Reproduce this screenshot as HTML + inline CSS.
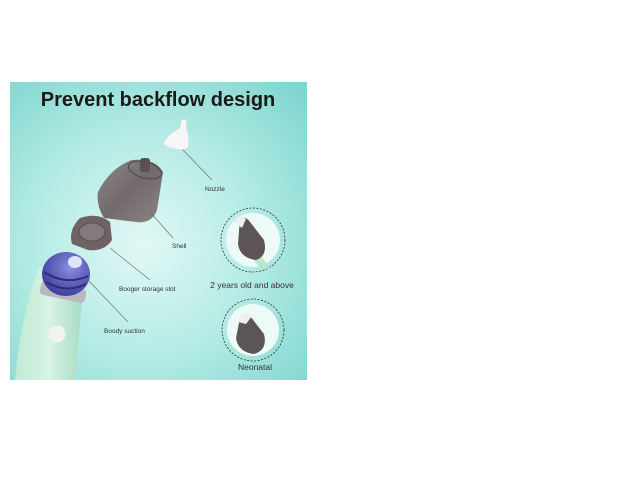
<!DOCTYPE html>
<html><head><style>
html,body{margin:0;padding:0;background:#fff;width:640px;height:500px;overflow:hidden}
svg{position:absolute;left:0;top:0}
text{font-family:"Liberation Sans",sans-serif}
</style></head><body>
<svg width="640" height="500" viewBox="0 0 640 500">
<defs>
<radialGradient id="bg" cx="0.45" cy="0.55" r="0.75">
<stop offset="0" stop-color="#e2f8f5"/><stop offset="0.5" stop-color="#b4ebe5"/><stop offset="1" stop-color="#7ed6ce"/>
</radialGradient>
<linearGradient id="shell" x1="0" y1="0" x2="1" y2="1">
<stop offset="0" stop-color="#8a7e7e"/><stop offset="0.5" stop-color="#6a5e60"/><stop offset="1" stop-color="#857a7b"/>
</linearGradient>
<radialGradient id="blue" cx="0.6" cy="0.35" r="0.7">
<stop offset="0" stop-color="#8b8fe0"/><stop offset="1" stop-color="#3a3a9a"/>
</radialGradient>
<linearGradient id="green" x1="0" y1="0" x2="1" y2="0">
<stop offset="0" stop-color="#bfe9d2"/><stop offset="0.5" stop-color="#d8f4e4"/><stop offset="1" stop-color="#a9dcc3"/>
</linearGradient>
</defs>
<rect x="10" y="82" width="297" height="298" fill="url(#bg)"/>
<text x="158" y="106" font-size="20" font-weight="bold" fill="#1a1a1a" text-anchor="middle">Prevent backflow design</text>
<!-- nozzle -->
<path d="M181 121 Q185 117 187 122 L186 128 Q190 136 188 148 Q176 152 163 144 Q168 134 180 128 Z" fill="#f6f6f6" stroke="#e0e0e0" stroke-width="0.5"/>
<line x1="183" y1="150" x2="212" y2="180" stroke="#666" stroke-width="0.6"/>
<text x="205" y="191" font-size="6.5" fill="#333">Nozzle</text>
<!-- shell -->
<path d="M132 160 Q155 158 163 172 L157 210 Q152 224 136 222 L104 218 Q96 205 98 192 Q110 168 132 160 Z" fill="url(#shell)" opacity="0.92"/>
<ellipse cx="145" cy="170" rx="17" ry="8" fill="none" stroke="#4e4446" stroke-width="1" transform="rotate(15 145 170)"/>
<rect x="140" y="158" width="10" height="14" rx="3" fill="#5a5052"/>
<line x1="150" y1="212" x2="173" y2="238" stroke="#666" stroke-width="0.6"/>
<text x="172" y="248" font-size="6.5" fill="#333">Shell</text>
<!-- slot -->
<path d="M80 218 Q98 212 110 222 L112 240 Q104 252 88 250 L72 244 Q68 230 80 218 Z" fill="#6f6264"/>
<ellipse cx="92" cy="232" rx="13" ry="9" fill="#857a7b" stroke="#5a5052" stroke-width="1"/>
<line x1="110" y1="248" x2="150" y2="280" stroke="#666" stroke-width="0.6"/>
<text x="119" y="291" font-size="6.5" fill="#333">Booger storage slot</text>
<!-- body -->
<path d="M38 270 Q44 262 78 268 L82 300 Q78 340 76 380 L15 380 Q20 320 38 270 Z" fill="url(#green)"/>
<rect x="40" y="285" width="46" height="14" rx="4" fill="#b8b8be" transform="rotate(12 63 292)"/>
<ellipse cx="66" cy="274" rx="24" ry="22" fill="url(#blue)"/>
<path d="M44 272 Q66 286 88 276" stroke="#2c2c7a" stroke-width="2" fill="none"/>
<path d="M46 282 Q66 294 86 284" stroke="#2c2c7a" stroke-width="2" fill="none"/>
<ellipse cx="75" cy="262" rx="7" ry="6" fill="#e0e4fb"/>
<circle cx="57" cy="334" r="8.5" fill="#f2f2f2"/>
<line x1="88" y1="280" x2="128" y2="322" stroke="#666" stroke-width="0.6"/>
<text x="104" y="333" font-size="6.5" fill="#333">Boody suction</text>
<!-- circles -->
<circle cx="253" cy="240" r="32" fill="none" stroke="#333" stroke-width="0.8" stroke-dasharray="2 1.5"/>
<circle cx="253" cy="240" r="27" fill="#eefaf8"/>
<path d="M256 250 L270 268 L262 270 L250 256 Z" fill="#b9e6cf"/>
<path d="M240 218 Q246 216 250 222 L264 240 Q268 256 256 260 Q240 258 238 244 Z" fill="#5d5456"/>
<path d="M234 222 Q238 212 246 219 L242 228 Z" fill="#eee"/>
<text x="252" y="288" font-size="8.5" fill="#333" text-anchor="middle">2 years old and above</text>
<circle cx="253" cy="330" r="31" fill="none" stroke="#333" stroke-width="0.8" stroke-dasharray="2 1.5"/>
<circle cx="253" cy="330" r="26" fill="#eefaf8"/>
<path d="M240 318 Q245 310 250 316 L264 334 Q268 350 254 354 Q238 352 236 338 Z" fill="#5d5456"/>
<path d="M238 322 Q242 308 252 316 L246 324 Z" fill="#eee"/>
<text x="255" y="370" font-size="8.5" fill="#333" text-anchor="middle">Neonatal</text>
</svg>
</body></html>
